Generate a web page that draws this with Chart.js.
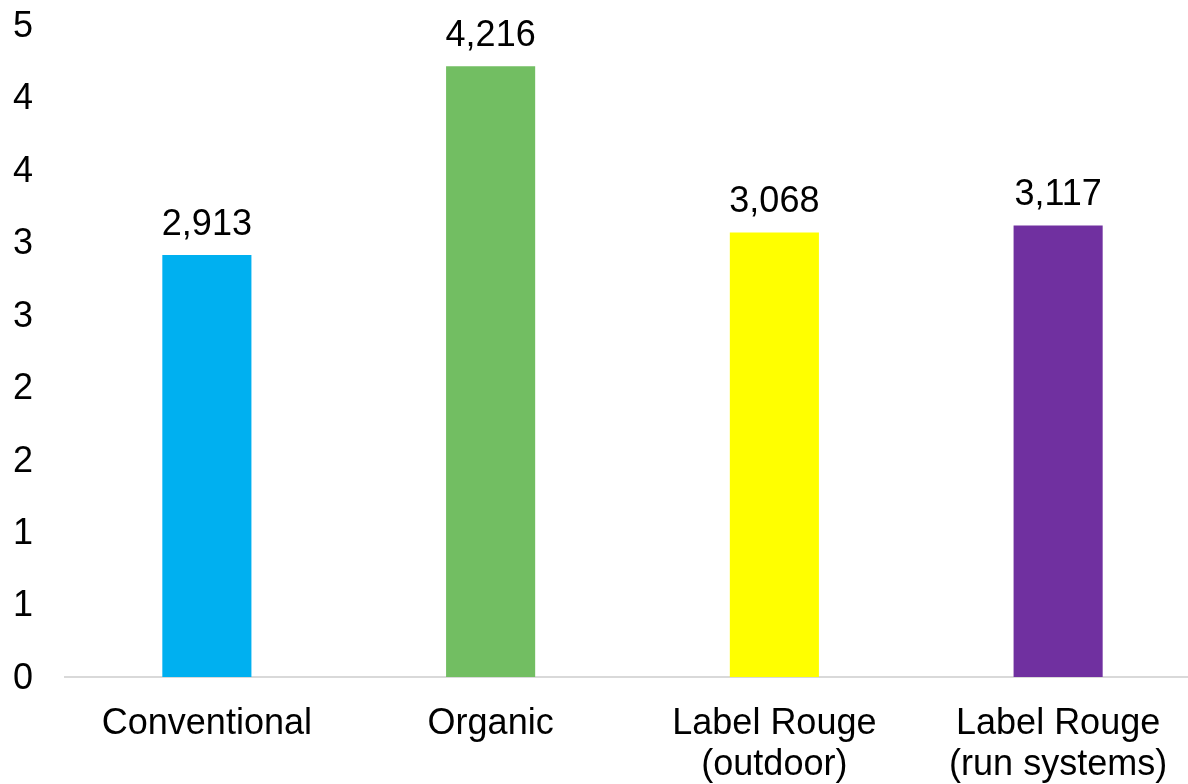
<!DOCTYPE html>
<html>
<head>
<meta charset="utf-8">
<script src="https://cdn.jsdelivr.net/npm/chart.js@4"></script>
<style>
    html, body { margin: 0; padding: 0; background: #fff; overflow: hidden; }
    #wrap { width: 1200px; height: 784px; }
</style>
</head>
<body>
<div id="wrap"><canvas id="myChart" width="1200" height="784"></canvas></div>
<script>
const categories = ['Conventional', 'Organic', ['Label Rouge', '(outdoor)'], ['Label Rouge', '(run systems)']];
const values = [2.913, 4.216, 3.068, 3.117];
const barColors = ['#00B0F0', '#72BE62', '#FFFF00', '#7030A0'];
const yTicks = [0, 0.5, 1, 1.5, 2, 2.5, 3, 3.5, 4, 4.5];

const FONT = '"Liberation Sans", Arial, sans-serif';

// value labels above the bars, comma as decimal separator
const valueLabels = {
    id: 'valueLabels',
    afterDatasetsDraw(chart) {
        const ctx = chart.ctx;
        const meta = chart.getDatasetMeta(0);
        ctx.save();
        ctx.font = '36px ' + FONT;
        ctx.fillStyle = '#000';
        ctx.textAlign = 'center';
        ctx.textBaseline = 'alphabetic';
        meta.data.forEach((bar, i) => {
            const txt = values[i].toFixed(3).replace('.', ',');
            ctx.fillText(txt, bar.x, bar.y - 20);
        });
        ctx.restore();
    }
};

function loadChart() {
    const ctx = document.getElementById('myChart');

    new Chart(ctx, {
        type: 'bar',
        data: {
            labels: categories,
            datasets: [{
                data: values,
                backgroundColor: barColors,
                borderWidth: 0,
                barPercentage: 0.314,
                categoryPercentage: 1
            }]
        },
        options: {
            responsive: false,
            animation: false,
            layout: { padding: { top: 25, left: 0, right: 0, bottom: 0 } },
            plugins: {
                legend: { display: false },
                tooltip: { enabled: false }
            },
            scales: {
                x: {
                    grid: { display: false },
                    border: { display: true, color: '#d9d9d9', width: 2 },
                    ticks: {
                        color: '#000',
                        font: { family: FONT, size: 36, lineHeight: 1.15 },
                        padding: 18,
                        maxRotation: 0,
                        autoSkip: false
                    },
                    afterFit(s) {
                        s.height = 107;
                        s.paddingLeft = 0;
                        s.paddingRight = 0;
                    }
                },
                y: {
                    min: 0,
                    max: 4.5,
                    grid: { display: false },
                    border: { display: false },
                    afterBuildTicks(s) {
                        s.ticks = yTicks.map(v => ({ value: v }));
                    },
                    ticks: {
                        color: '#000',
                        font: { family: FONT, size: 36 },
                        padding: 24,
                        labelOffset: 2,
                        autoSkip: false,
                        callback: (v) => String(Math.round(v))
                    },
                    afterFit(s) {
                        s.width = 65;
                        s.paddingTop = 0;
                        s.paddingBottom = 0;
                    }
                }
            }
        },
        plugins: [valueLabels]
    });
}

loadChart();
</script>
</body>
</html>
